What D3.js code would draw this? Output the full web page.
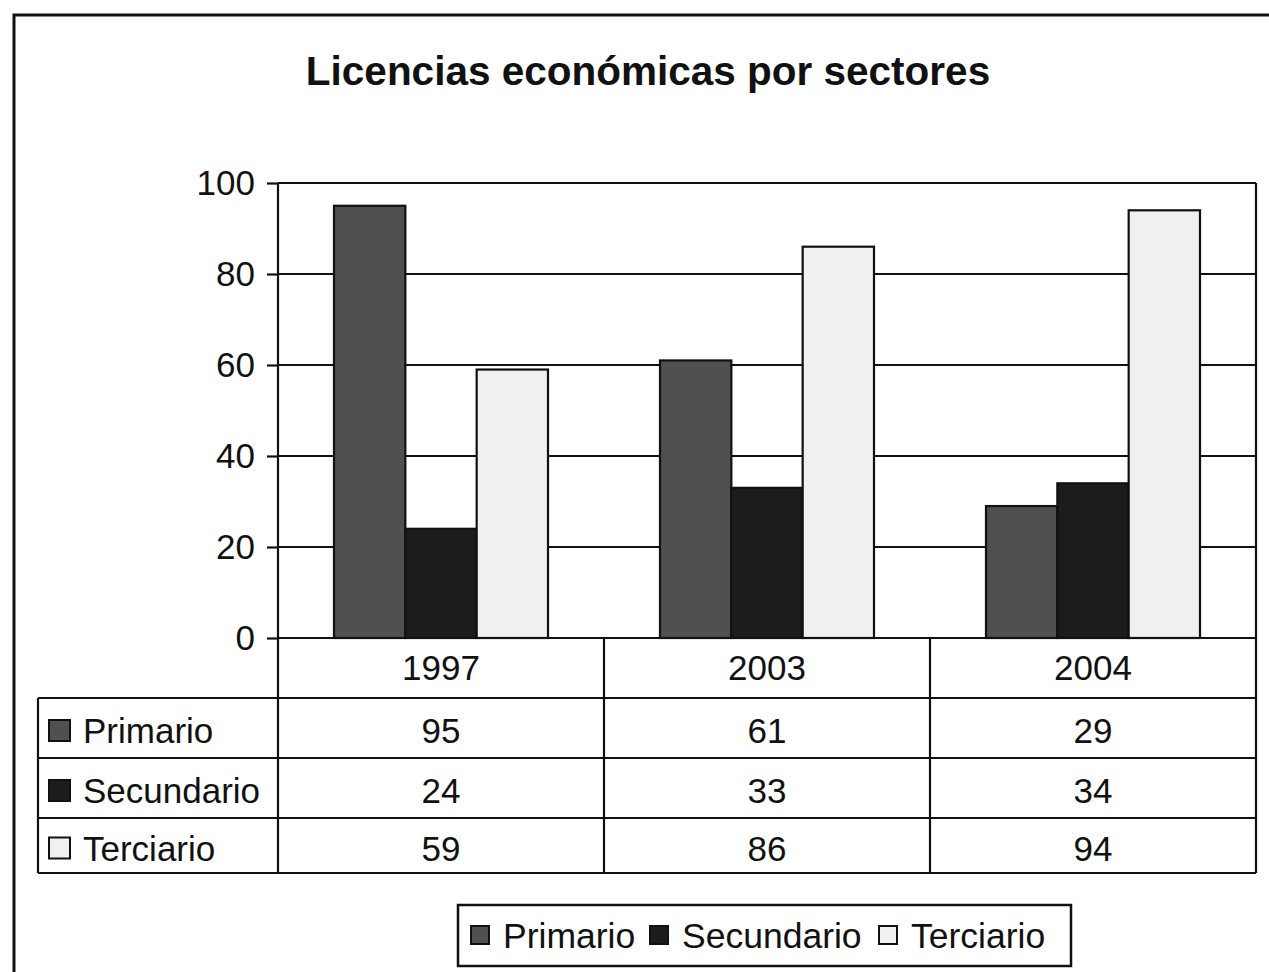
<!DOCTYPE html>
<html>
<head>
<meta charset="utf-8">
<script src="https://cdn.jsdelivr.net/npm/d3@7"></script>
<style>
  body { margin: 0; background: #fff; }
  svg { display: block; font-family: "Liberation Sans", Arial, sans-serif; }
</style>
</head>
<body>
<div id="chart"></div>
<script>
var years = ["1997", "2003", "2004"];
var sectors = ["Primario", "Secundario", "Terciario"];
var primario = [95, 61, 29];
var secundario = [24, 33, 34];
var terciario = [59, 86, 94];
var yTicks = [0, 20, 40, 60, 80, 100];

var seriesValues = [primario, secundario, terciario];
var colors = ["#505050", "#1c1c1c", "#f0f0f0"];

var W = 1269, H = 972,
    plotLeft = 278, plotRight = 1256, plotTop = 183, plotZero = 638,
    rowY = [638, 698, 758, 818, 873],
    tableLeft = 38,
    fs = 35;

var svg = d3.select("#chart")
    .append("svg")
    .attr("width", W)
    .attr("height", H);

// outer frame (only top and left visible in the reference)
svg.append("path")
    .attr("d", "M14," + H + " L14,15 L" + W + ",15")
    .attr("fill", "none")
    .attr("stroke", "#111")
    .attr("stroke-width", 3);

svg.append("text")
    .text("Licencias económicas por sectores")
    .attr("x", 648)
    .attr("y", 85)
    .attr("text-anchor", "middle")
    .attr("font-size", 40.5)
    .attr("font-weight", "bold")
    .attr("fill", "#111");

var x = d3.scaleBand().domain(years).range([plotLeft, plotRight]);
var x1 = d3.scaleBand().domain(sectors).range([0, x.bandwidth()]).paddingOuter(0.785);
var y = d3.scaleLinear().domain([0, 100]).range([plotZero, plotTop]);

// grid
svg.append("g")
    .selectAll("line")
    .data(yTicks.filter(function (d) { return d > 0; }))
    .enter()
    .append("line")
    .attr("x1", plotLeft).attr("x2", plotRight)
    .attr("y1", function (d) { return y(d); })
    .attr("y2", function (d) { return y(d); })
    .attr("stroke", "#111")
    .attr("stroke-width", 2.2);

// right border of the plot
svg.append("line")
    .attr("x1", plotRight).attr("x2", plotRight)
    .attr("y1", y(100)).attr("y2", plotZero)
    .attr("stroke", "#111").attr("stroke-width", 2.2);

// bars
var groups = svg.append("g")
    .selectAll("g")
    .data(years)
    .enter()
    .append("g")
    .attr("transform", function (d) { return "translate(" + x(d) + ",0)"; });

groups.selectAll("rect")
    .data(function (d, i) {
        return sectors.map(function (s, j) { return { s: s, v: seriesValues[j][i], c: colors[j] }; });
    })
    .enter()
    .append("rect")
    .attr("x", function (d) { return x1(d.s); })
    .attr("width", x1.bandwidth())
    .attr("y", function (d) { return y(d.v); })
    .attr("height", function (d) { return plotZero - y(d.v); })
    .attr("fill", function (d) { return d.c; })
    .attr("stroke", "#111")
    .attr("stroke-width", 2.2);

// y axis
var yAxis = svg.append("g")
    .attr("transform", "translate(" + plotLeft + ",0)")
    .call(d3.axisLeft(y).tickValues(yTicks).tickSize(11).tickPadding(12));
yAxis.select(".domain").remove();
yAxis.selectAll("line").attr("stroke", "#111").attr("stroke-width", 2.2);
yAxis.selectAll("text")
    .attr("font-size", fs)
    .attr("font-family", "'Liberation Sans', Arial, sans-serif")
    .attr("fill", "#111");

// data table lines
var tbl = svg.append("g").attr("stroke", "#111").attr("stroke-width", 2.2);
rowY.forEach(function (ry, i) {
    tbl.append("line")
        .attr("x1", i === 0 ? plotLeft : tableLeft).attr("x2", plotRight)
        .attr("y1", ry).attr("y2", ry);
});
tbl.append("line").attr("x1", plotLeft).attr("x2", plotLeft).attr("y1", plotTop).attr("y2", rowY[4]);
tbl.append("line").attr("x1", tableLeft).attr("x2", tableLeft).attr("y1", rowY[1]).attr("y2", rowY[4]);
years.forEach(function (yr) {
    tbl.append("line")
        .attr("x1", x(yr) + x.bandwidth()).attr("x2", x(yr) + x.bandwidth())
        .attr("y1", plotZero).attr("y2", rowY[4]);
});

// year headers
svg.append("g")
    .selectAll("text")
    .data(years)
    .enter()
    .append("text")
    .text(function (d) { return d; })
    .attr("x", function (d) { return x(d) + x.bandwidth() / 2; })
    .attr("y", (rowY[0] + rowY[1]) / 2 + 12)
    .attr("text-anchor", "middle")
    .attr("font-size", fs)
    .attr("fill", "#111");

// table rows
sectors.forEach(function (s, j) {
    var cy = (rowY[j + 1] + rowY[j + 2]) / 2 + 3;
    svg.append("rect")
        .attr("x", 49).attr("y", cy - 11)
        .attr("width", 21).attr("height", 21)
        .attr("fill", colors[j]).attr("stroke", "#111").attr("stroke-width", 2);
    svg.append("text")
        .text(s)
        .attr("x", 83).attr("y", cy + 12)
        .attr("font-size", fs).attr("fill", "#111");
    svg.append("g")
        .selectAll("text")
        .data(seriesValues[j])
        .enter()
        .append("text")
        .text(function (d) { return d; })
        .attr("x", function (d, i) { return x(years[i]) + x.bandwidth() / 2; })
        .attr("y", cy + 12)
        .attr("text-anchor", "middle")
        .attr("font-size", fs)
        .attr("fill", "#111");
});

// legend
svg.append("rect")
    .attr("x", 458).attr("y", 905)
    .attr("width", 613).attr("height", 61)
    .attr("fill", "#fff").attr("stroke", "#111").attr("stroke-width", 2.5);

var legendX = [471, 650, 879];
sectors.forEach(function (s, j) {
    svg.append("rect")
        .attr("x", legendX[j]).attr("y", 926)
        .attr("width", 18).attr("height", 18)
        .attr("fill", colors[j]).attr("stroke", "#111").attr("stroke-width", 2);
    svg.append("text")
        .text(s)
        .attr("x", legendX[j] + 32).attr("y", 948)
        .attr("font-size", 35.5).attr("fill", "#111");
});
</script>
</body>
</html>
